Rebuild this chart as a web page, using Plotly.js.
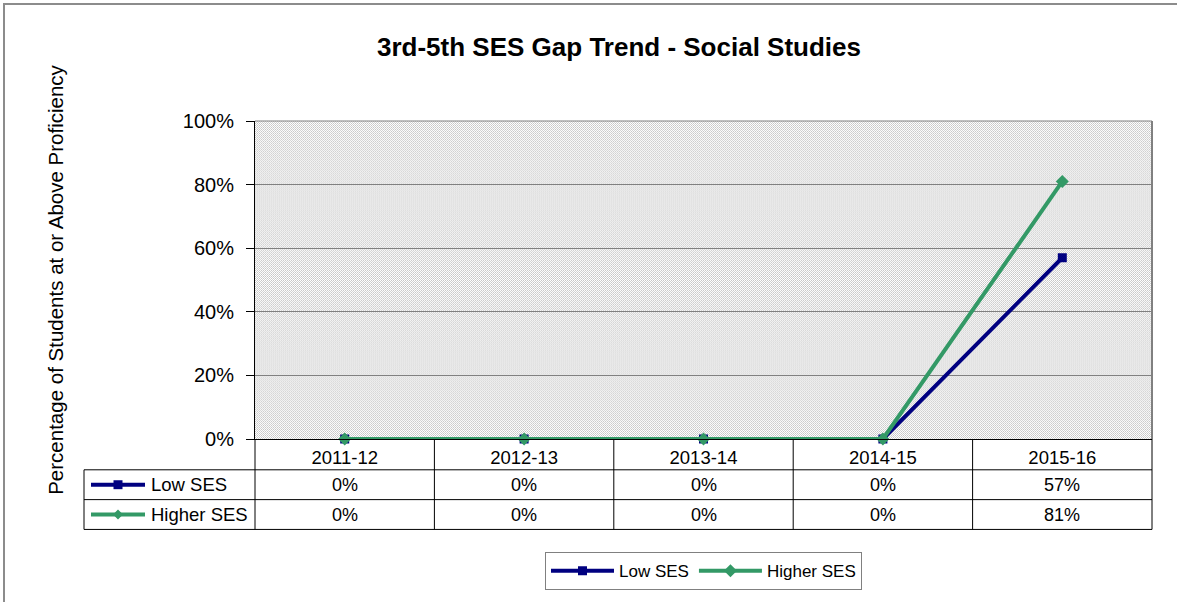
<!DOCTYPE html>
<html><head><meta charset="utf-8">
<script src="https://cdn.plot.ly/plotly-3.0.1.min.js"></script>
<style>
html,body{margin:0;padding:0;background:#fff;overflow:hidden}
#chart{width:1177px;height:602px;position:absolute;left:0;top:0}
#frame{position:absolute;left:3px;top:3px;width:1300px;height:800px;border:2px solid #8c8c8c;pointer-events:none}
</style></head><body>
<div id="chart"></div><div id="frame"></div>
<script>
// ---- data ----
const categories = ['2011-12','2012-13','2013-14','2014-15','2015-16'];
const lowSES = [0, 0, 0, 0, 0.57];
const higherSES = [0, 0, 0, 0, 0.81];
const seriesNames = ['Low SES', 'Higher SES'];
const seriesColors = ['#000080', '#339966'];
const yTickVals = [0, 0.2, 0.4, 0.6, 0.8, 1.0];
const yTickText = ['0%', '20%', '40%', '60%', '80%', '100%'];
const chartTitle = '3rd-5th SES Gap Trend - Social Studies';
const yTitle = 'Percentage of Students at or Above Proficiency';

// ---- geometry ----
const W = 1177, H = 602, ML = 255, MR = 25, MT = 121, MB = 161;
const PW = W - ML - MR, PH = H - MT - MB;
const px = x => (x - ML) / PW;
const py = y => (H - MB - y) / PH;
const FONT = 'Liberation Sans, Arial, Helvetica, sans-serif';

const fmt = v => Math.round(v * 100) + '%';

const traces = [
  {x: categories, y: lowSES, name: seriesNames[0], type: 'scatter', mode: 'lines+markers', cliponaxis: false,
   line: {color: seriesColors[0], width: 4}, marker: {symbol: 'square', size: 9, color: seriesColors[0]}},
  {x: categories, y: higherSES, name: seriesNames[1], type: 'scatter', mode: 'lines+markers', cliponaxis: false,
   line: {color: seriesColors[1], width: 4}, marker: {symbol: 'diamond', size: 10, color: seriesColors[1]}}
];

// background dotted pattern
const svg = "<svg xmlns='http://www.w3.org/2000/svg' width='" + PW + "' height='" + PH + "'>" +
  "<defs><pattern id='p' width='4' height='4' patternUnits='userSpaceOnUse'>" +
  "<rect width='4' height='4' fill='#ffffff'/>" +
  "<rect x='0' y='0' width='1' height='1' fill='#c6c6c6'/>" +
  "<rect x='2' y='0' width='1' height='1' fill='#c6c6c6'/>" +
  "<rect x='1' y='1' width='1' height='1' fill='#d2d2d2'/>" +
  "<rect x='3' y='1' width='1' height='1' fill='#d2d2d2'/>" +
  "<rect x='0' y='2' width='1' height='1' fill='#c6c6c6'/>" +
  "<rect x='2' y='2' width='1' height='1' fill='#c6c6c6'/>" +
  "<rect x='1' y='3' width='1' height='1' fill='#d2d2d2'/>" +
  "<rect x='3' y='3' width='1' height='1' fill='#d2d2d2'/>" +
  "</pattern></defs><rect width='100%' height='100%' fill='url(#p)'/></svg>";
const bgSrc = 'data:image/svg+xml;charset=utf-8,' + encodeURIComponent(svg);

const shapes = [];
const line = (x0, y0, x1, y1, color, width) => shapes.push({type: 'line', xref: 'paper', yref: 'paper',
  x0: x0, y0: y0, x1: x1, y1: y1, line: {color: color, width: width}});
// plot border (top, right)
line(0, 1, 1, 1, '#808080', 1);
line(1, 0, 1, 1, '#808080', 2);
// data table
const rowLines = [472, 502, 532];
rowLines.forEach(y => line(px(84), py(y), 1, py(y), '#000000', 1));
line(px(84), py(472), px(84), py(532), '#000000', 1);
for (let k = 0; k <= categories.length; k++) {
  line(k / categories.length, 0, k / categories.length, py(532), '#000000', 1);
}
// legend keys in table
const rowCenters = [487, 517];
rowCenters.forEach((yc, i) => {
  line(px(91), py(yc), px(145), py(yc), seriesColors[i], 4);
});
shapes.push({type: 'rect', xref: 'paper', yref: 'paper', x0: px(113.5), x1: px(122.5), y0: py(482.5), y1: py(491.5),
  fillcolor: seriesColors[0], line: {width: 0}});
shapes.push({type: 'path', xref: 'paper', yref: 'paper',
  path: 'M ' + px(118) + ' ' + py(512) + ' L ' + px(123) + ' ' + py(517) + ' L ' + px(118) + ' ' + py(522) + ' L ' + px(113) + ' ' + py(517) + ' Z',
  fillcolor: seriesColors[1], line: {width: 0}});

const annotations = [];
const seriesVals = [lowSES, higherSES];
seriesNames.forEach((n, i) => {
  annotations.push({xref: 'paper', yref: 'paper', x: px(149), y: py(rowCenters[i]), xanchor: 'left', yanchor: 'middle',
    text: n, showarrow: false, font: {size: 18.5, color: '#000', family: FONT}});
  categories.forEach((c, j) => {
    annotations.push({xref: 'x', yref: 'paper', x: c, y: py(rowCenters[i]), xanchor: 'center', yanchor: 'middle',
      text: fmt(seriesVals[i][j]), showarrow: false, font: {size: 18, color: '#000', family: FONT}});
  });
});

const layout = {
  width: W, height: H,
  margin: {l: ML, r: MR, t: MT, b: MB},
  paper_bgcolor: 'rgba(0,0,0,0)', plot_bgcolor: '#ffffff',
  font: {family: FONT, color: '#000'},
  title: {text: chartTitle, x: 619 / W, xanchor: 'center', xref: 'container', y: 1 - 47 / H, yanchor: 'middle', yref: 'container',
    font: {size: 26, weight: 'bold', family: FONT, color: '#000'}},
  xaxis: {type: 'category', range: [-0.5, categories.length - 0.5], showgrid: false, zeroline: false,
    showline: true, linecolor: '#000', linewidth: 1, ticks: '', tickfont: {size: 18.5, family: FONT},
    ticklabelstandoff: 2, fixedrange: true},
  yaxis: {range: [0, 1], tickvals: yTickVals, ticktext: yTickText, showgrid: true, gridcolor: '#808080', gridwidth: 1,
    zeroline: false, showline: true, linecolor: '#000', linewidth: 1, ticks: 'outside', ticklen: 8, tickcolor: '#000',
    tickfont: {size: 20, family: FONT}, ticklabelstandoff: 8,
    title: {text: yTitle, font: {size: 20.5, family: FONT}, standoff: 113}, fixedrange: true},
  showlegend: true,
  legend: {orientation: 'h', x: px(545), y: py(555), xanchor: 'left', yanchor: 'top',
    bordercolor: '#808080', borderwidth: 1, bgcolor: '#ffffff', font: {size: 17, family: FONT}, itemwidth: 63},
  images: [{source: bgSrc, xref: 'paper', yref: 'paper', x: 0, y: 1, sizex: 1, sizey: 1, xanchor: 'left', yanchor: 'top',
    sizing: 'stretch', layer: 'below'}],
  shapes: shapes,
  annotations: annotations
};

Plotly.newPlot('chart', traces, layout, {displayModeBar: false, staticPlot: true});
</script>
</body></html>
